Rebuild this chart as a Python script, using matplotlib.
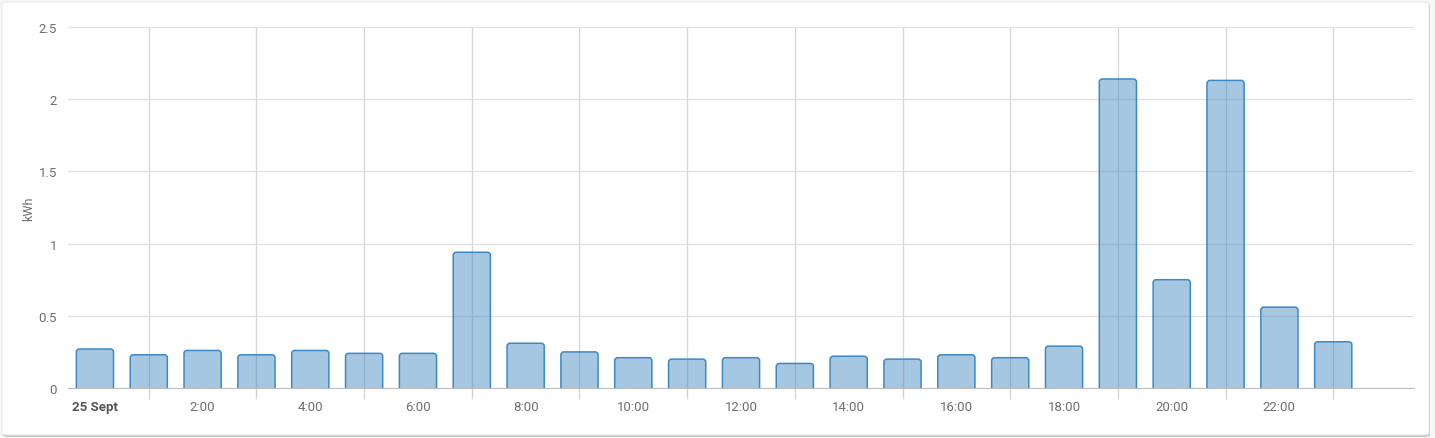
import matplotlib
matplotlib.use("Agg")
import matplotlib.pyplot as plt
from matplotlib.patches import FancyBboxPatch
from matplotlib.ticker import FixedLocator, NullFormatter
import numpy as np

plt.rcParams['font.family'] = ['Roboto', 'DejaVu Sans']

hours = list(range(24))
kwh = [0.27, 0.23, 0.26, 0.23, 0.26, 0.24, 0.24, 0.94, 0.31, 0.25, 0.21, 0.20,
       0.21, 0.17, 0.22, 0.20, 0.23, 0.21, 0.29, 2.14, 0.75, 2.13, 0.56, 0.32]
label_hours = [0, 2, 4, 6, 8, 10, 12, 14, 16, 18, 20, 22]
labels = ['25 Sept', '2:00', '4:00', '6:00', '8:00', '10:00', '12:00',
          '14:00', '16:00', '18:00', '20:00', '22:00']
y_ticks = [0, 0.5, 1, 1.5, 2, 2.5]
y_labels = ['0', '0.5', '1', '1.5', '2', '2.5']

W, H = 1435, 439
fig = plt.figure(figsize=(W / 100, H / 100), dpi=100)
fig.patch.set_facecolor('#f7f7f7')

# card with a soft shadow
shadow = FancyBboxPatch((3 / W, 1 / H), 1427 / W, 433 / H,
                        boxstyle="round,pad=0,rounding_size=0.004",
                        transform=fig.transFigure, facecolor='#c8c8c8',
                        edgecolor='none', zorder=-2)
card = FancyBboxPatch((2 / W, 3 / H), 1427 / W, 433 / H,
                      boxstyle="round,pad=0,rounding_size=0.004",
                      transform=fig.transFigure, facecolor='white',
                      edgecolor='#e4e4e4', linewidth=0.6, zorder=-1)
fig.patches.extend([shadow, card])

ax = fig.add_axes([68 / W, 1 - 389 / H, (1414 - 68) / W, (389 - 28) / H])
ax.set_facecolor('none')
ax.set_xlim(-0.5, 24.5)
ax.set_ylim(0, 2.5)

bars = ax.bar(hours, kwh, width=0.69)
# swap plain bars for rounded ones (bottom pushed under the axis and clipped)
x_per_px = 25 / (1414 - 68)
y_per_px = 2.5 / (389 - 28)
r = 3 * x_per_px
for b in bars:
    x0, w, h = b.get_x(), b.get_width(), b.get_height()
    b.remove()
    p = FancyBboxPatch((x0, -4 * y_per_px), w, h + 4 * y_per_px,
                       boxstyle=f"round,pad=0,rounding_size={r}",
                       mutation_aspect=y_per_px / x_per_px,
                       facecolor=(0.27, 0.54, 0.76, 0.48),
                       edgecolor='#3d89c6', linewidth=1.1, zorder=3)
    ax.add_patch(p)

for s in ['top', 'right', 'left']:
    ax.spines[s].set_visible(False)
ax.spines['bottom'].set_color('#bdbdbd')
ax.spines['bottom'].set_zorder(4)

ax.set_yticks(y_ticks)
ax.set_yticklabels(y_labels)
ax.tick_params(axis='y', length=0, pad=8, labelsize=9.5, labelcolor='#6f6f6f')
ax.yaxis.grid(True, color='#e0e0e0', linewidth=0.9)

ax.xaxis.set_major_locator(FixedLocator([h for h in hours if h % 2 == 1]))
ax.xaxis.set_major_formatter(NullFormatter())
ax.set_xticks(label_hours, minor=True)
ax.set_xticklabels(labels, minor=True)
ax.tick_params(axis='x', which='major', length=8, color='#d2d2d2', width=0.9)
ax.tick_params(axis='x', which='minor', length=0, pad=9, labelsize=9.5,
               labelcolor='#6f6f6f')
ax.xaxis.grid(True, which='major', color='#d6d6d6', linewidth=0.9)
ax.set_axisbelow(True)
for t in ax.xaxis.get_minorticklabels():
    if t.get_text() == '25 Sept':
        t.set_fontweight('bold')
        t.set_color('#555555')

ax.set_ylabel('kWh', fontsize=9, color='#6f6f6f', labelpad=2)

fig.savefig('out.png', dpi=100, facecolor=fig.get_facecolor())
